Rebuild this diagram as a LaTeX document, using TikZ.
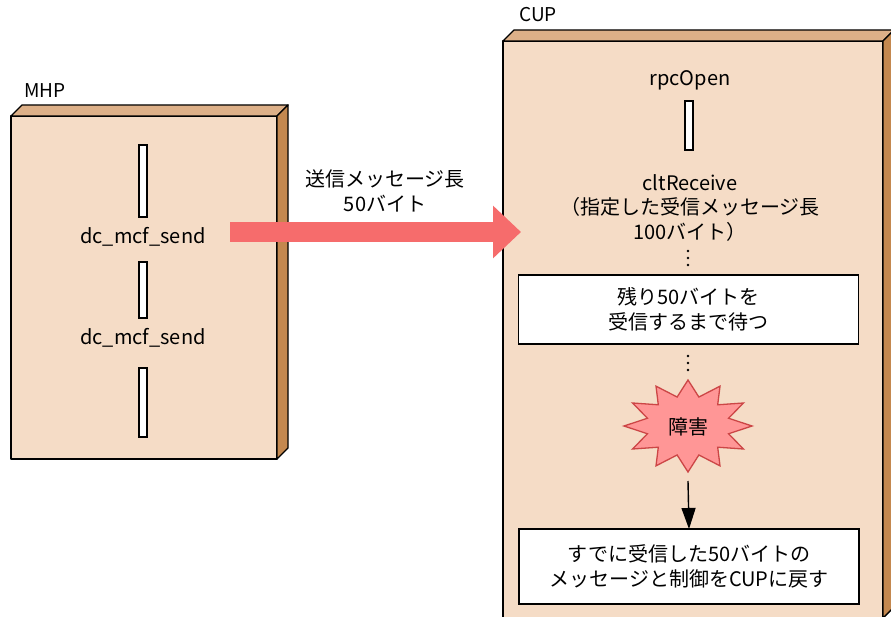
\documentclass[tikz,border=0pt]{standalone}
\usepackage{fontspec}
\setmainfont{Noto Sans CJK JP}
\usetikzlibrary{arrows.meta}
\definecolor{frontc}{RGB}{245,220,198}
\definecolor{topc}{RGB}{221,176,136}
\definecolor{sidec}{RGB}{196,136,79}
\definecolor{bigarrow}{RGB}{246,108,108}
\definecolor{burstfill}{RGB}{255,150,150}
\definecolor{burstline}{RGB}{204,70,70}
\begin{document}
\begin{tikzpicture}[x=1pt,y=-1pt,
  txt/.style={font=\fontsize{20}{24.5}\selectfont, align=center, inner sep=0pt},
  lbl/.style={font=\fontsize{19}{22}\selectfont, inner sep=0pt, anchor=west},
  face/.style={draw=black, line width=1.4pt, line join=round},
  front/.style={face, fill=frontc, outer sep=0pt, inner sep=0pt, anchor=north west},
  bar/.style={draw=black, fill=white, line width=1.4pt, minimum width=8pt, inner sep=0pt, outer sep=0pt},
  msgbox/.style={draw=black, fill=white, line width=1.4pt, minimum width=340pt, inner sep=0pt, outer sep=0pt, align=center, font=\fontsize{20}{25.5}\selectfont},
  dotm/.style={fill=black},
]
\useasboundingbox (0,0) rectangle (891,617);
\clip (0,0) rectangle (891,617);
\fill[white] (0,0) rectangle (891,617);

% MHP block
\node[front, minimum width=266pt, minimum height=343pt] (mhp) at (11,116) {};
\draw[face, fill=topc] (mhp.north west) -- ([shift={(11,-11)}]mhp.north west) -- ([shift={(11,-11)}]mhp.north east) -- (mhp.north east) -- cycle;
\draw[face, fill=sidec] (mhp.north east) -- ([shift={(11,-11)}]mhp.north east) -- ([shift={(11,-11)}]mhp.south east) -- (mhp.south east) -- cycle;
\node[lbl] (mhplabel) at (24,91) {MHP};

\node[bar, minimum height=72pt] (b1) at (143,181) {};
\node[txt] (send1) at (143,237) {dc\_mcf\_send};
\node[bar, minimum height=56pt] (b2) at (143,290) {};
\node[txt] (send2) at (143,338) {dc\_mcf\_send};
\node[bar, minimum height=69pt] (b3) at (143,402.5) {};

% CUP block
\node[front, minimum width=380pt, minimum height=577pt] (cup) at (503,41) {};
\draw[face, fill=topc] (cup.north west) -- ([shift={(11,-11)}]cup.north west) -- ([shift={(11,-11)}]cup.north east) -- (cup.north east) -- cycle;
\draw[face, fill=sidec] (cup.north east) -- ([shift={(11,-11)}]cup.north east) -- ([shift={(11,-11)}]cup.south east) -- (cup.south east) -- cycle;
\node[lbl] (cuplabel) at (519,15) {CUP};

\node[txt] (open) at (690,80) {rpcOpen};
\node[bar, minimum height=49pt] (b4) at (689,125.5) {};
\node[txt] (recv) at (690,208) {cltReceive\\（指定した受信メッセージ長\\100バイト）};
\foreach \yy in {251,258,265} \fill[dotm] (688,\yy) circle (1.4);
\node[msgbox, minimum height=69pt] (box1) at (688.5,309.5) {残り50バイトを\\受信するまで待つ};
\foreach \yy in {356,363,370} \fill[dotm] (688,\yy) circle (1.4);

% failure burst
\begin{scope}[shift={(688,426)}]
\draw[draw=burstline, fill=burstfill, line width=1.3pt, line join=miter]
  (90:64 and 46) \foreach \i in {1,...,12} { -- ({75+30*\i}:42 and 30) -- ({90+30*\i}:64 and 46) } -- cycle;
\end{scope}
\node[txt] (burst) at (688,427) {障害};

\node[msgbox, minimum height=75pt] (box2) at (689,566.5) {すでに受信した50バイトの\\メッセージと制御をCUPに戻す};
\coordinate (bs) at (688,481);
\draw[line width=1.4pt, -{Triangle[length=21pt,width=14pt]}] (bs) -- (box2.north);

% big message arrow
\coordinate (as) at (230,232);
\coordinate (ae) at (521,232);
\draw[bigarrow, line width=20pt, -{Triangle[length=28pt,width=51pt]}] (as) -- (ae);
\node[txt] (msglabel) at (385,191) {送信メッセージ長\\50バイト};
\end{tikzpicture}
\end{document}
